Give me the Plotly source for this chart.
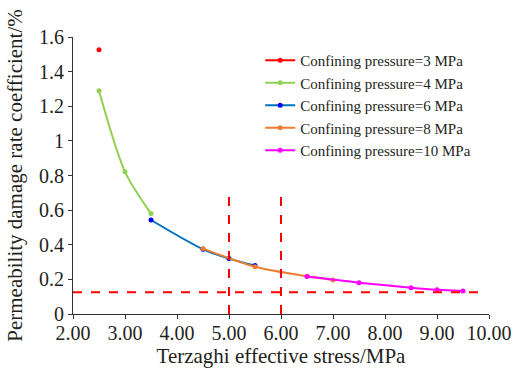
import plotly.graph_objects as go

x_cp3 = [2.5]
y_cp3 = [1.526]
x_cp4 = [2.5, 3.0, 3.5]
y_cp4 = [1.289, 0.821, 0.58]
x_cp6 = [3.5, 4.5, 5.0, 5.5]
y_cp6 = [0.543, 0.374, 0.32, 0.28]
x_cp8 = [4.5, 5.5, 6.5, 7.0]
y_cp8 = [0.378, 0.273, 0.218, 0.197]
x_cp10 = [6.5, 7.5, 8.5, 9.0, 9.5]
y_cp10 = [0.216, 0.181, 0.152, 0.140, 0.133]

names = ["Confining pressure=3 MPa", "Confining pressure=4 MPa", "Confining pressure=6 MPa",
         "Confining pressure=8 MPa", "Confining pressure=10 MPa"]
colors = ["#FF0000", "#92D050", "#0070C0", "#ED7D31", "#FF00FF"]
marker_colors = ["#FF0000", "#92D050", "#0000FF", "#ED7D31", "#FF00FF"]

h_line_x = [2.0, 9.88]
h_line_y = 0.125
v_lines_x = [5.0, 6.0]
v_line_top = 0.68

x_ticks = [2, 3, 4, 5, 6, 7, 8, 9, 10]
x_ticklabels = ["2.00", "3.00", "4.00", "5.00", "6.00", "7.00", "8.00", "9.00", "10.00"]
y_ticks = [0, 0.2, 0.4, 0.6, 0.8, 1.0, 1.2, 1.4, 1.6]
y_ticklabels = ["0", "0.2", "0.4", "0.6", "0.8", "1", "1.2", "1.4", "1.6"]

FF = "Liberation Serif"
TXT = "#231F20"

fig = go.Figure()
series = [(x_cp3, y_cp3), (x_cp4, y_cp4), (x_cp6, y_cp6), (x_cp8, y_cp8), (x_cp10, y_cp10)]
for (xs, ys), n, c, mc in zip(series, names, colors, marker_colors):
    fig.add_trace(go.Scatter(
        x=xs, y=ys, name=n, mode="lines+markers",
        line=dict(color=c, width=2, shape="spline", smoothing=0.8),
        marker=dict(color=mc, size=5),
    ))

# red dashed reference lines
fig.add_trace(go.Scatter(x=h_line_x, y=[h_line_y, h_line_y], mode="lines",
                         line=dict(color="#FF0000", width=2, dash="dash"), showlegend=False, hoverinfo="skip"))
for vx in v_lines_x:
    fig.add_trace(go.Scatter(x=[vx, vx], y=[0, v_line_top], mode="lines",
                             line=dict(color="#FF0000", width=2, dash="dash"), showlegend=False, hoverinfo="skip"))

fig.update_layout(
    width=516, height=371,
    margin=dict(l=73, r=27, t=37, b=57),
    plot_bgcolor="white", paper_bgcolor="white",
    font=dict(family=FF, color=TXT, size=16),
    showlegend=True,
    legend=dict(x=0.45, y=0.975, xanchor="left", yanchor="top",
                font=dict(size=15, family=FF, color=TXT),
                bgcolor="rgba(0,0,0,0)", tracegroupgap=0),
    xaxis=dict(range=[2, 10], tickvals=x_ticks, ticktext=x_ticklabels, automargin=False,
               showgrid=False, zeroline=False, showline=True, linecolor="#333333", linewidth=1,
               ticks="outside", ticklen=4, tickcolor="#333333", ticklabelstandoff=-3,
               title=dict(text="Terzaghi effective stress/MPa", font=dict(size=21, family=FF, color=TXT), standoff=0),
               tickfont=dict(size=20, family=FF, color=TXT)),
    yaxis=dict(range=[0, 1.6], tickvals=y_ticks, ticktext=y_ticklabels, automargin=False,
               showgrid=False, zeroline=False, showline=True, linecolor="#333333", linewidth=1,
               ticks="outside", ticklen=4, tickcolor="#333333",
               title=dict(text="Permeability damage rate coefficient/%", font=dict(size=21, family=FF, color=TXT), standoff=10),
               tickfont=dict(size=20, family=FF, color=TXT)),
)

fig.write_html("out.html", config={"displayModeBar": False},
               post_script="document.body.style.margin='0';document.body.style.overflow='hidden';")
